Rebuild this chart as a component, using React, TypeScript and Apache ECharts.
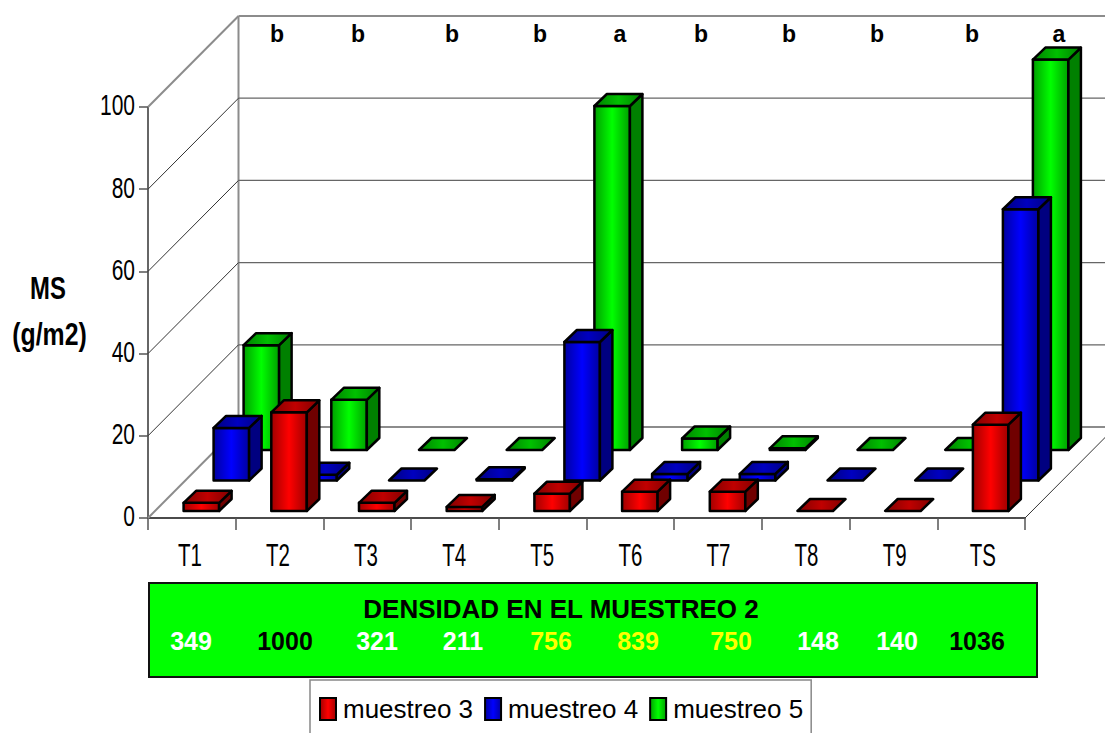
import React, { useEffect, useRef } from "react";
import * as echarts from "echarts";

// Treatments along the front edge of the floor
const categories = ["T1", "T2", "T3", "T4", "T5", "T6", "T7", "T8", "T9", "TS"];
// Dry matter per sampling date (g/m2)
const muestreo3 = [2, 24, 2, 1, 4.2, 4.7, 4.7, 0, 0, 21];
const muestreo4 = [12.8, 1.4, 0, 0.3, 33.7, 1.6, 1.6, 0, 0, 66];
const muestreo5 = [25.5, 12.2, 0, 0, 83.7, 2.8, 0.4, 0, 0, 95];
const valueTicks = [0, 20, 40, 60, 80, 100];
// Statistical grouping letters above each treatment
const significance = ["b", "b", "b", "b", "a", "b", "b", "b", "b", "a"];
const significanceX = [277, 358, 452, 540, 620, 701, 789, 877, 972, 1059];
// Plant density at the second sampling
const densityTitle = "DENSIDAD EN EL MUESTREO 2";
const densityValues = ["349", "1000", "321", "211", "756", "839", "750", "148", "140", "1036"];
const densityColors = ["#fff", "#000", "#fff", "#fff", "#ff0", "#ff0", "#ff0", "#fff", "#fff", "#000"];
const densityX = [191, 285, 377, 463, 551, 638, 731, 818, 897, 977];

const FONT = "'Liberation Sans', Arial, sans-serif";
const WALL_DX = 90.5; // oblique offset of the back wall, px
const WALL_DY = 91;
const BAR_DX = 12.5;
const BAR_DY = 12;

type Shades = { edge: string; mid: string; topEdge: string; topMid: string; side: string };
const RED: Shades = { edge: "#a00000", mid: "#ff0000", topEdge: "#800000", topMid: "#c00000", side: "#700000" };
const BLUE: Shades = { edge: "#0000a0", mid: "#0000ff", topEdge: "#000080", topMid: "#0000c0", side: "#000080" };
const GREEN: Shades = { edge: "#00a000", mid: "#00ff00", topEdge: "#008000", topMid: "#00c000", side: "#008000" };

const across = (a: string, b: string) =>
  new echarts.graphic.LinearGradient(0, 0, 1, 0, [
    { offset: 0, color: a },
    { offset: 0.5, color: b },
    { offset: 1, color: a },
  ]);

// One oblique bar: front face, lid and right flank, shifted back along the depth axis.
const barRenderer = (shade: Shades, shift: number, lift: number) => (_: any, api: any) => {
  const cat = api.value(0);
  const base = api.coord([cat, 0]);
  const top = api.coord([cat, api.value(1)]);
  const w = api.size([1, 0])[0] * 0.405;
  const x = base[0] - w / 2 + shift;
  const y0 = base[1] - lift;
  const y1 = top[1] - lift;
  const line = { stroke: "#000", lineWidth: 2.5, lineJoin: "round" };
  const children: any[] = [];
  if (y0 - y1 > 0.5) {
    children.push({
      type: "rect",
      shape: { x, y: y1, width: w, height: y0 - y1 },
      style: { fill: across(shade.edge, shade.mid), ...line },
    });
    children.push({
      type: "polygon",
      shape: { points: [[x + w, y1], [x + w + BAR_DX, y1 - BAR_DY], [x + w + BAR_DX, y0 - BAR_DY], [x + w, y0]] },
      style: { fill: shade.side, ...line },
    });
  }
  children.push({
    type: "polygon",
    shape: { points: [[x, y1], [x + w, y1], [x + w + BAR_DX, y1 - BAR_DY], [x + BAR_DX, y1 - BAR_DY]] },
    style: { fill: across(shade.topEdge, shade.topMid), ...line },
  });
  return { type: "group", children };
};

// Back wall, floor edges and the oblique gridlines, one set per value tick.
const wallRenderer = (params: any, api: any) => {
  const v = api.value(1);
  const p = api.coord([0, v]);
  const sys = params.coordSys;
  const left = sys.x;
  const right = sys.x + sys.width;
  const y = p[1];
  const edge = v === 0 || v === 100;
  const children: any[] = [
    {
      type: "line",
      shape: { x1: left, y1: y, x2: left + WALL_DX, y2: y - WALL_DY },
      style: { stroke: edge ? "#8c8c8c" : "#333", lineWidth: edge ? 2 : 1 },
    },
    {
      type: "line",
      shape: { x1: left + WALL_DX, y1: y - WALL_DY, x2: right + WALL_DX, y2: y - WALL_DY },
      style: { stroke: edge ? "#8c8c8c" : "#666", lineWidth: edge ? 2 : 1.3 },
    },
  ];
  if (v === 0) {
    children.push({
      type: "line",
      shape: { x1: right, y1: y, x2: right + WALL_DX, y2: y - WALL_DY },
      style: { stroke: "#333", lineWidth: 1 },
    });
    children.push({
      type: "line",
      shape: { x1: left + WALL_DX, y1: y - WALL_DY, x2: left + WALL_DX, y2: y - WALL_DY - sys.height },
      style: { stroke: "#8c8c8c", lineWidth: 2 },
    });
  }
  return { type: "group", children };
};

// Tall, condensed tick labels placed through the axis scales.
const categoryLabelRenderer = (_: any, api: any) => {
  const i = api.value(0);
  const p = api.coord([i, 0]);
  return {
    type: "text",
    x: p[0] - 2 + i * 0.4,
    y: p[1] + 37,
    scaleX: 0.66,
    style: {
      text: categories[i],
      font: `31px ${FONT}`,
      fill: "#000",
      align: "center",
      verticalAlign: "middle",
    },
  };
};

const valueLabelRenderer = (_: any, api: any) => {
  const p = api.coord([0, api.value(1)]);
  return {
    type: "text",
    x: 135,
    y: p[1] - 2,
    scaleX: 0.7,
    style: {
      text: String(api.value(1)),
      font: `30px ${FONT}`,
      fill: "#000",
      align: "right",
      verticalAlign: "middle",
    },
  };
};

const indexed = (values: number[]) => values.map((v, i) => [i, v]);

const legendItem = (name: string, shade: Shades) => ({
  name,
  icon: "rect",
  itemStyle: { color: across(shade.edge, shade.mid), borderColor: "#000", borderWidth: 2 },
});

export default function App() {
  const ref = useRef<HTMLDivElement>(null);

  useEffect(() => {
    document.body.style.margin = "0";
    document.body.style.background = "#fff";
    const chart = echarts.init(ref.current!, undefined, { renderer: "svg" });
    chart.setOption({
      animation: false,
      backgroundColor: "#fff",
      textStyle: { fontFamily: FONT },
      grid: { left: 148, top: 107, width: 877, height: 411 },
      xAxis: {
        type: "category",
        data: categories,
        axisLine: { lineStyle: { color: "#111", width: 1.5 } },
        axisTick: { show: true, alignWithLabel: false, length: 12, lineStyle: { color: "#555", width: 1.5 } },
        axisLabel: { show: false },
        splitLine: { show: false },
      },
      yAxis: {
        type: "value",
        min: 0,
        max: 100,
        interval: 20,
        axisLine: { show: true, lineStyle: { color: "#333", width: 1.5 } },
        axisTick: { show: true, length: 9, lineStyle: { color: "#555", width: 1.5 } },
        axisLabel: { show: false },
        splitLine: { show: false },
      },
      legend: {
        left: 310,
        top: 680,
        orient: "horizontal",
        selectedMode: false,
        padding: [16, 8, 16, 9],
        itemGap: 11,
        itemWidth: 16,
        itemHeight: 22,
        borderColor: "#888",
        borderWidth: 1.5,
        textStyle: { fontFamily: FONT, fontSize: 26, color: "#000", padding: [0, 0, 0, 2] },
        data: [
          legendItem("muestreo 3", RED),
          legendItem("muestreo 4", BLUE),
          legendItem("muestreo 5", GREEN),
        ],
      },
      graphic: [
        {
          type: "rect",
          shape: { x: 149, y: 583, width: 888, height: 94 },
          style: { fill: "#00ff00", stroke: "#111", lineWidth: 2 },
        },
        {
          type: "text",
          x: 561,
          y: 609,
          style: { text: densityTitle, font: `bold 26px ${FONT}`, fill: "#000", align: "center", verticalAlign: "middle" },
        },
        ...densityValues.map((text, i) => ({
          type: "text",
          x: densityX[i],
          y: 641,
          style: { text, font: `bold 25px ${FONT}`, fill: densityColors[i], align: "center", verticalAlign: "middle" },
        })),
        ...significance.map((text, i) => ({
          type: "text",
          x: significanceX[i],
          y: 34,
          style: { text, font: `bold 23px ${FONT}`, fill: "#000", align: "center", verticalAlign: "middle" },
        })),
        {
          type: "text",
          x: 48,
          y: 288,
          scaleX: 0.77,
          style: { text: "MS", font: `bold 31px ${FONT}`, fill: "#000", align: "center", verticalAlign: "middle" },
        },
        {
          type: "text",
          x: 49.5,
          y: 335,
          scaleX: 0.8,
          style: { text: "(g/m2)", font: `bold 31px ${FONT}`, fill: "#000", align: "center", verticalAlign: "middle" },
        },
      ],
      series: [
        { type: "custom", name: "pared", data: valueTicks.map((v) => [0, v]), renderItem: wallRenderer, silent: true },
        { type: "custom", name: "muestreo 5", data: indexed(muestreo5), renderItem: barRenderer(GREEN, 69.5, 68) },
        { type: "custom", name: "muestreo 4", data: indexed(muestreo4), renderItem: barRenderer(BLUE, 39.5, 37.5) },
        { type: "custom", name: "muestreo 3", data: indexed(muestreo3), renderItem: barRenderer(RED, 9.5, 7) },
        { type: "custom", name: "etiquetas x", data: categories.map((_, i) => [i, 0]), renderItem: categoryLabelRenderer, silent: true },
        { type: "custom", name: "etiquetas y", data: valueTicks.map((v) => [0, v]), renderItem: valueLabelRenderer, silent: true },
      ],
    });
    return () => chart.dispose();
  }, []);

  return <div ref={ref} style={{ width: 1105, height: 733 }} />;
}
